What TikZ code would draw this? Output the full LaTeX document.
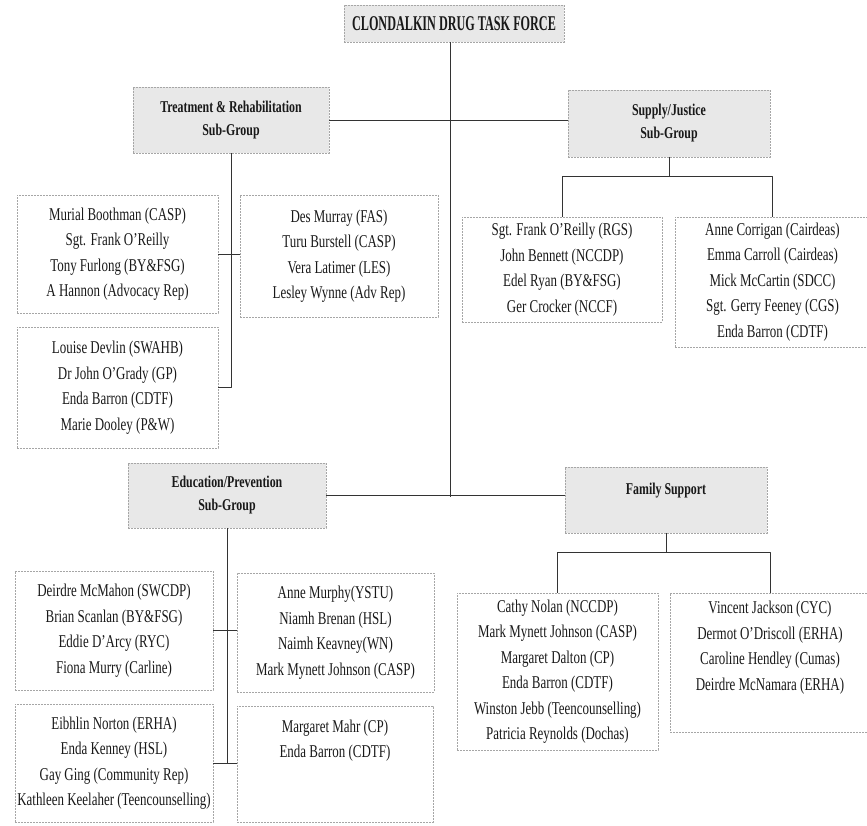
\documentclass[tikz,border=0pt]{standalone}
\usepackage{fontspec}
\setmainfont{Liberation Serif}
\newfontfamily\condfont[FakeStretch=0.72,Ligatures=TeX]{Liberation Serif}
\newfontfamily\titlefont[FakeStretch=0.58,Ligatures=TeX]{Liberation Serif}
\begin{document}
\begin{tikzpicture}[x=1pt, y=-1pt, line join=round,
	member/.style={draw=gray!70, dash pattern=on 2pt off 1pt, inner sep=0pt, align=center,
		font=\condfont\fontsize{18}{25.5}\selectfont, text=black!90},
	head/.style={member, fill=gray!18, font=\condfont\bfseries\fontsize{16.5}{23}\selectfont},
	link/.style={draw=black!80, line width=0.8pt}]
	\useasboundingbox (0,0) rectangle (867,825);
	% top of the chart and the four sub-groups
	\node[head, font=\titlefont\bfseries\fontsize{21}{23}\selectfont, minimum width=220, minimum height=37] (cdtf) at (454,23.5) {CLONDALKIN DRUG TASK FORCE};
	\node[head, minimum width=196, minimum height=66] (tr) at (231,120) {Treatment \& Rehabilitation\\Sub-Group};
	\node[head, minimum width=202, minimum height=67] (sj) at (669,123.5) {Supply/Justice\\Sub-Group};
	\node[head, minimum width=198, minimum height=65] (ed) at (227,495.5) {Education/Prevention\\Sub-Group};
	\node[head, minimum width=202, minimum height=66] (fs) at (666,500) {Family Support\\\mbox{}};
	% members
	\node[member, minimum width=201, minimum height=118] (tr1) at (117.5,254) {Murial Boothman (CASP)\\Sgt. Frank O'Reilly\\Tony Furlong (BY\&FSG)\\A Hannon (Advocacy Rep)};
	\node[member, minimum width=198, minimum height=122] (tr2) at (339,256) {Des Murray (FAS)\\Turu Burstell (CASP)\\Vera Latimer (LES)\\Lesley Wynne (Adv Rep)};
	\node[member, minimum width=201, minimum height=121] (tr3) at (117.5,387.5) {Louise Devlin (SWAHB)\\Dr John O'Grady (GP)\\Enda Barron (CDTF)\\Marie Dooley (P\&W)};
	\node[member, minimum width=200, minimum height=105] (sj1) at (562,269.5) {Sgt. Frank O'Reilly (RGS)\\John Bennett (NCCDP)\\Edel Ryan (BY\&FSG)\\Ger Crocker (NCCF)};
	\node[member, minimum width=195, minimum height=130] (sj2) at (772.5,282) {Anne Corrigan (Cairdeas)\\Emma Carroll (Cairdeas)\\Mick McCartin (SDCC)\\Sgt. Gerry Feeney (CGS)\\Enda Barron (CDTF)};
	\node[member, minimum width=198, minimum height=119] (ed1) at (114,630.5) {Deirdre McMahon (SWCDP)\\Brian Scanlan (BY\&FSG)\\Eddie D'Arcy (RYC)\\Fiona Murry (Carline)};
	\node[member, minimum width=197, minimum height=119] (ed2) at (335.5,632.5) {Anne Murphy(YSTU)\\Niamh Brenan (HSL)\\Naimh Keavney(WN)\\Mark Mynett Johnson (CASP)};
	\node[member, minimum width=198, minimum height=118] (ed3) at (114,763) {Eibhlin Norton (ERHA)\\Enda Kenney (HSL)\\Gay Ging (Community Rep)\\Kathleen Keelaher (Teencounselling)};
	\node[member, minimum width=196, minimum height=116] (ed4) at (335,764) {Margaret Mahr (CP)\\Enda Barron (CDTF)\\\mbox{}\\\mbox{}};
	\node[member, minimum width=201, minimum height=157] (fs1) at (557.5,671.5) {Cathy Nolan (NCCDP)\\Mark Mynett Johnson (CASP)\\Margaret Dalton (CP)\\Enda Barron (CDTF)\\Winston Jebb (Teencounselling)\\Patricia Reynolds (Dochas)};
	\node[member, minimum width=200, minimum height=139] (fs2) at (770,662.5) {Vincent Jackson (CYC)\\Dermot O'Driscoll (ERHA)\\Caroline Hendley (Cumas)\\Deirdre McNamara (ERHA)\\[8.5pt]\mbox{}};
	\path
	(450,497) coordinate (trunk)
	(sj1.north) ++(0,-40) coordinate (sjbus)
	(fs1.north) ++(0,-40) coordinate (fsbus)
	;
	% connectors
	\draw[link] (cdtf.south -| trunk) -- (trunk);
	\draw[link] (tr.east) -- (tr.east -| sj.west);
	\draw[link] (ed.east) -- (ed.east -| fs.west);
	\draw[link] (tr.south) |- (tr3.east);
	\draw[link] (ed.south) |- (ed3.east);
	\foreach \a/\b in {tr1/tr2,ed1/ed2,ed3/ed4} \draw[link] (\a.east) -- (\a.east -| \b.west);
	\draw[link] (sj.south) -- (sj.south |- sjbus) (sj1.north) |- (sjbus) -| (sj2.north);
	\draw[link] (fs.south) -- (fs.south |- fsbus) (fs1.north) |- (fsbus) -| (fs2.north);
\end{tikzpicture}
\end{document}
